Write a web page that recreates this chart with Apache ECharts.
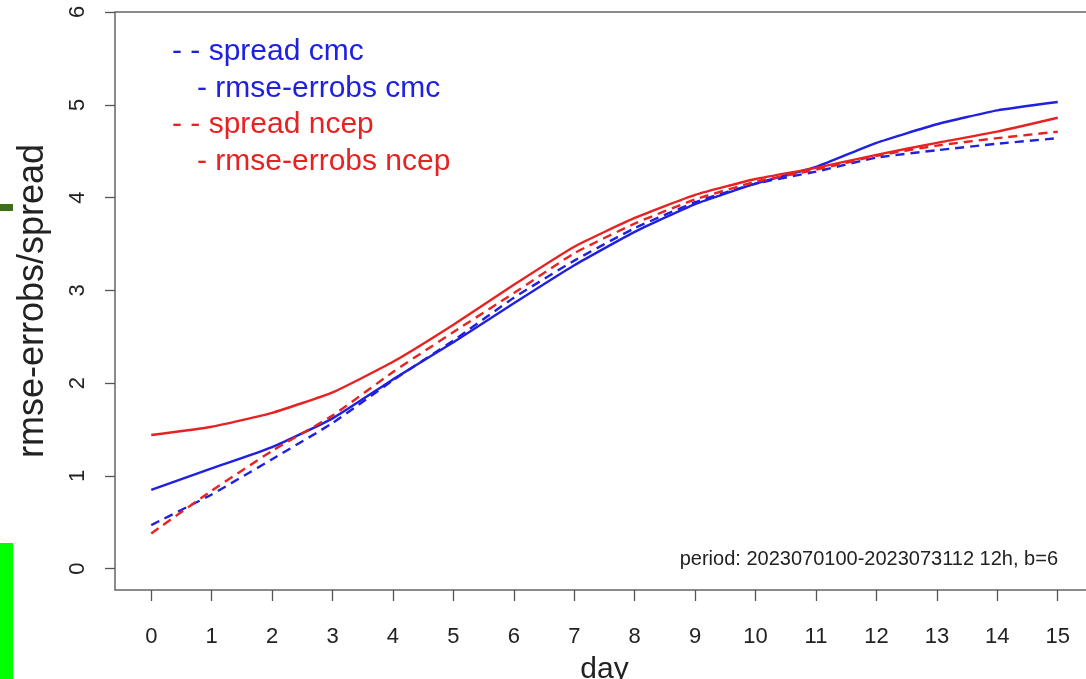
<!DOCTYPE html>
<html>
<head>
<meta charset="utf-8">
<script src="https://cdn.jsdelivr.net/npm/echarts@6/dist/echarts.min.js"></script>
<style>
html,body{margin:0;padding:0;background:#ffffff;}
#chart{width:1086px;height:679px;}
</style>
</head>
<body>
<div id="chart"></div>
<script>
// ---- data ----
const days = [0, 1, 2, 3, 4, 5, 6, 7, 8, 9, 10, 11, 12, 13, 14, 15];
const xTickValues = [0, 1, 2, 3, 4, 5, 6, 7, 8, 9, 10, 11, 12, 13, 14, 15];
const yTickValues = [0, 1, 2, 3, 4, 5, 6];
const spreadCmc  = [0.47, 0.80, 1.18, 1.57, 2.03, 2.46, 2.92, 3.32, 3.67, 3.95, 4.15, 4.28, 4.43, 4.51, 4.58, 4.64];
const rmseCmc    = [0.85, 1.08, 1.31, 1.62, 2.04, 2.44, 2.86, 3.27, 3.63, 3.93, 4.15, 4.33, 4.59, 4.79, 4.94, 5.03];
const spreadNcep = [0.38, 0.84, 1.27, 1.65, 2.12, 2.55, 2.97, 3.40, 3.72, 3.98, 4.17, 4.30, 4.45, 4.56, 4.64, 4.71];
const rmseNcep   = [1.44, 1.53, 1.68, 1.90, 2.23, 2.63, 3.06, 3.47, 3.78, 4.03, 4.20, 4.32, 4.46, 4.59, 4.71, 4.86];
const seriesNames = ['spread cmc', 'rmse-errobs cmc', 'spread ncep', 'rmse-errobs ncep'];
const periodText = 'period: 2023070100-2023073112 12h, b=6';

const BLUE = '#2020e0';
const RED = '#e62222';
const FONT = '"Liberation Sans", Arial, Helvetica, sans-serif';

function pairs(arr) { return days.map((d, i) => [d, arr[i]]); }

function lineSeries(name, arr, color, dashed) {
  return {
    name: name,
    type: 'line',
    data: pairs(arr),
    showSymbol: false,
    symbol: 'none',
    smooth: 0.15,
    lineStyle: { color: color, width: 2.4, type: dashed ? [9, 6] : 'solid' },
    itemStyle: { color: color },
    emphasis: { disabled: true },
    z: 3
  };
}

function legendItem(name, color, prefix, left, top) {
  return {
    data: [name],
    left: left,
    top: top,
    orient: 'vertical',
    icon: 'none',
    itemWidth: 0,
    itemHeight: 10,
    itemGap: 0,
    padding: 0,
    selectedMode: false,
    formatter: prefix + '{name}',
    textStyle: { color: color, fontSize: 30, fontFamily: FONT }
  };
}

const chart = echarts.init(document.getElementById('chart'), null, { renderer: 'canvas' });
chart.setOption({
  animation: false,
  backgroundColor: '#ffffff',
  title: {
    text: periodText,
    right: 28,
    top: 549,
    padding: 0,
    textStyle: { fontSize: 20, fontWeight: 'normal', color: '#222', fontFamily: FONT }
  },
  legend: [
    legendItem(seriesNames[0], BLUE, '- - ', 167, 37),
    legendItem(seriesNames[1], BLUE, '- ', 192, 74),
    legendItem(seriesNames[2], RED, '- - ', 167, 110),
    legendItem(seriesNames[3], RED, '- ', 192, 147)
  ],
  grid: {
    left: 115, top: 12, right: -8, bottom: 89,
    outerBoundsMode: 'none',
    containLabel: false,
    show: true, borderColor: '#666', borderWidth: 1.5, backgroundColor: 'transparent'
  },
  xAxis: {
    type: 'value',
    min: -0.6, max: 15.6,
    position: 'bottom',
    name: 'day',
    nameLocation: 'middle',
    nameGap: 65,
    nameTextStyle: { fontSize: 30, color: '#222', fontFamily: FONT },
    axisLine: { show: false, onZero: false },
    axisTick: { show: true, inside: false, length: 11, customValues: xTickValues, lineStyle: { color: '#555', width: 1.3 } },
    axisLabel: { customValues: xTickValues, margin: 36, fontSize: 22, color: '#222', fontFamily: FONT },
    splitLine: { show: false }
  },
  yAxis: {
    type: 'value',
    min: -0.23, max: 6,
    position: 'left',
    name: 'rmse-errobs/spread',
    nameLocation: 'middle',
    nameGap: 64,
    nameRotate: 90,
    nameTextStyle: { fontSize: 36, color: '#222', fontFamily: FONT },
    axisLine: { show: false, onZero: false },
    axisTick: { show: true, inside: false, length: 10, customValues: yTickValues, lineStyle: { color: '#555', width: 1.3 } },
    axisLabel: { customValues: yTickValues, rotate: 90, margin: 26, fontSize: 22, color: '#222', fontFamily: FONT },
    splitLine: { show: false }
  },
  graphic: [
    { type: 'rect', left: 0, top: 204, shape: { width: 13, height: 7 }, style: { fill: '#3f6d1c' }, silent: true },
    { type: 'rect', left: 0, top: 543, shape: { width: 13, height: 136 }, style: { fill: '#00ff00' }, silent: true }
  ],
  series: [
    lineSeries(seriesNames[0], spreadCmc, BLUE, true),
    lineSeries(seriesNames[1], rmseCmc, BLUE, false),
    lineSeries(seriesNames[2], spreadNcep, RED, true),
    lineSeries(seriesNames[3], rmseNcep, RED, false)
  ]
});
</script>
</body>
</html>
